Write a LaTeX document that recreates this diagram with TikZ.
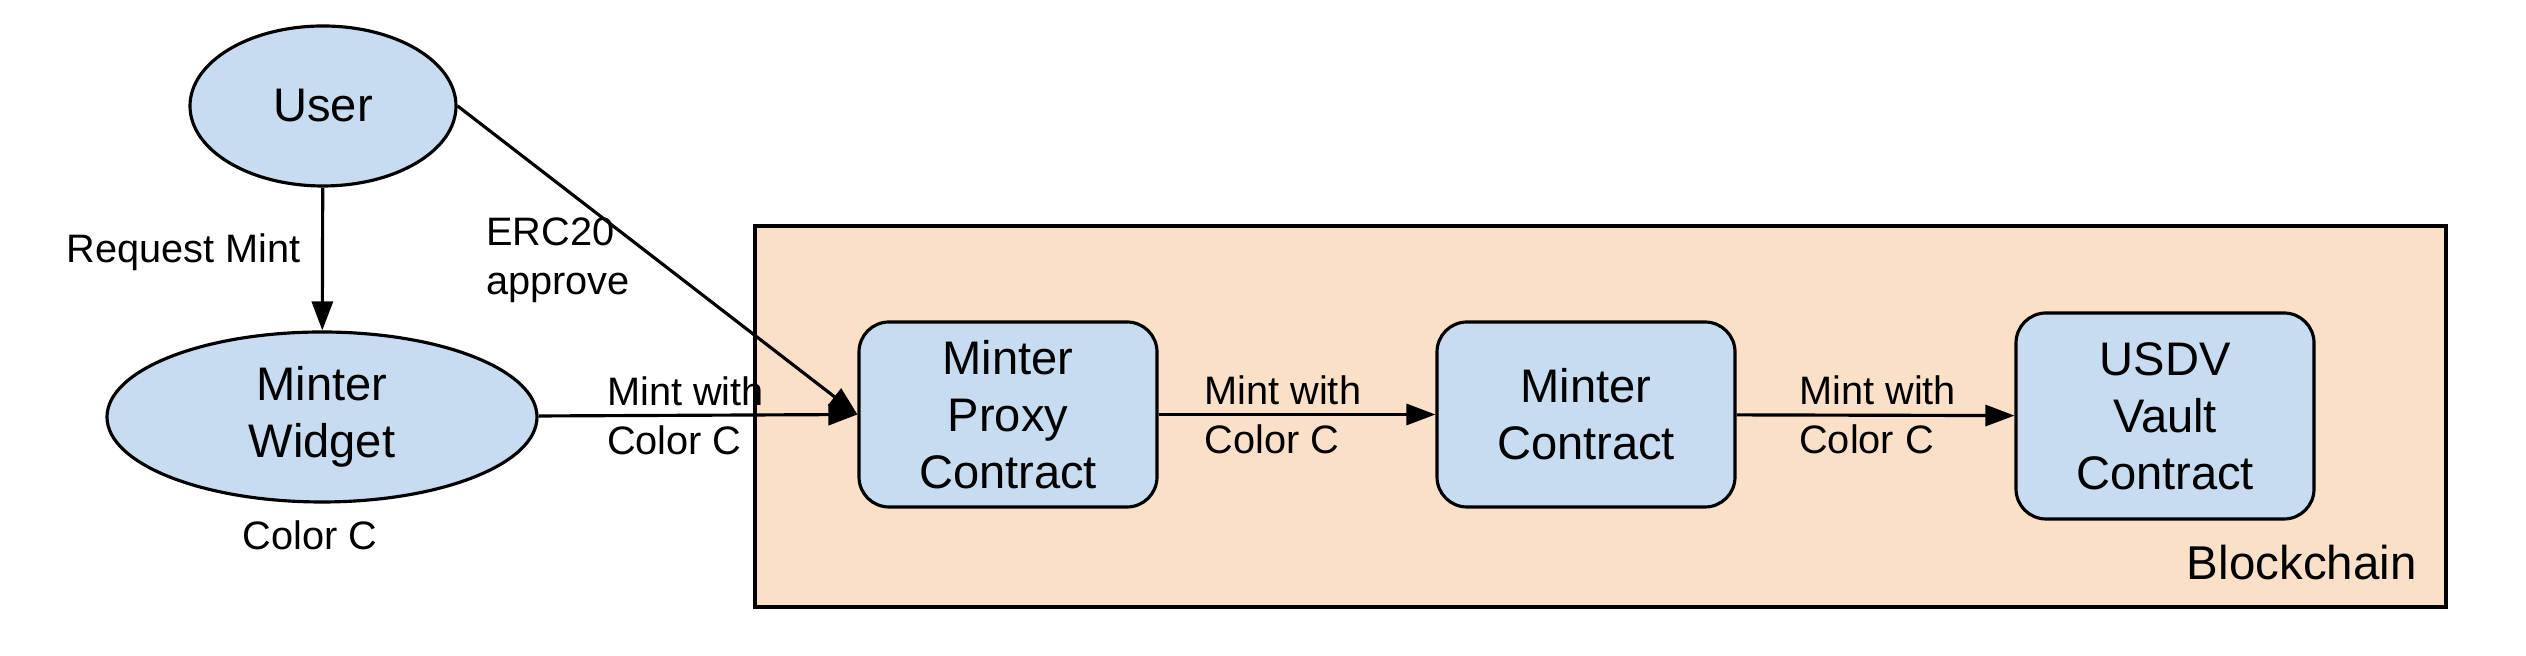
\documentclass[tikz,border=0pt]{standalone}
\usepackage{fontspec}
\setmainfont{Liberation Sans}
\usetikzlibrary{shapes.geometric,arrows.meta}
\definecolor{nodeblue}{RGB}{199,220,240}
\definecolor{chainpeach}{RGB}{251,224,200}

\begin{document}
\begin{tikzpicture}[
>={Triangle[length=2.9mm,width=2.1mm]},
line width=0.9pt,
ovalnode/.style={ellipse, draw=black, fill=nodeblue, inner sep=0pt, align=center, font=\fontsize{13.4}{16.2}\selectfont},
boxnode/.style={rectangle, rounded corners=3mm, draw=black, fill=nodeblue, minimum width=2.98cm, minimum height=1.85cm, inner sep=0pt, align=center, font=\fontsize{13.4}{16.2}\selectfont},
flowlabel/.style={inner sep=0pt, align=left, font=\fontsize{11.3}{13.9}\selectfont}
]
    \useasboundingbox (0,0) rectangle (25.26,6.56);

    \node[draw=black, fill=chainpeach, minimum width=16.91cm, minimum height=3.81cm, inner sep=0pt] (chain) at (16.005,2.395){};
    \node[anchor=east, inner sep=0pt, font=\fontsize{13.5}{16}\selectfont] (chainlabel) at (24.18,0.93){Blockchain};

    \node[ovalnode, minimum width=2.66cm, minimum height=1.60cm] (user) at (3.23,5.50){User};
    \node[ovalnode, minimum width=4.30cm, minimum height=1.70cm,
          label={[flowlabel, label distance=1.6mm, xshift=-1.2mm]below:Color C}] (widget) at (3.22,2.39){Minter\\Widget};

    \node[boxnode] (proxy) at (10.08,2.415){Minter\\Proxy\\Contract};
    \node[boxnode] (minter) at (15.86,2.415){Minter\\Contract};
    \node[boxnode, minimum height=2.06cm] (vault) at (21.65,2.40){USDV\\Vault\\Contract};

    \draw[->] (user) -- node[flowlabel, pos=0.45, left=2mm]{Request Mint} (widget);
    \draw[->] (user.east) -- node[flowlabel, pos=0.5, left=2.6mm]{ERC20\\approve} (proxy.west);
    \draw[->] (widget) -- node[flowlabel, pos=0.21, right]{Mint with\\Color C} (proxy.west);

    \draw[->] (proxy) -- node[flowlabel, pos=0.16, right]{Mint with\\Color C} (minter);
    \draw[->] (minter) -- node[flowlabel, pos=0.22, right]{Mint with\\Color C} (vault);
\end{tikzpicture}
\end{document}
